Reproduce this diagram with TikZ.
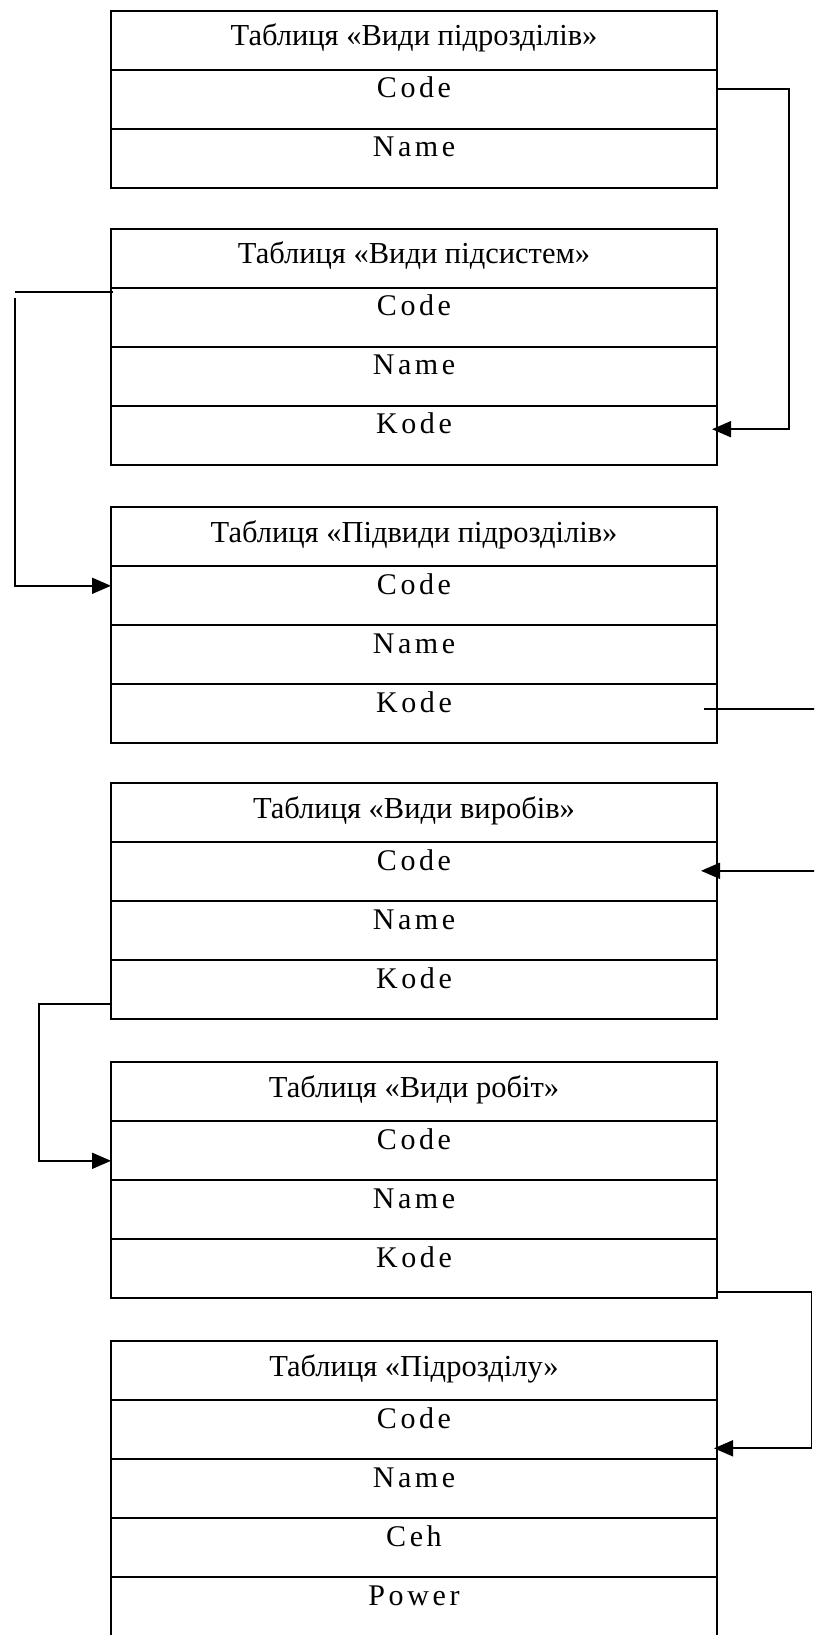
\documentclass[tikz,border=0pt]{standalone}
\usepackage{fontspec}
\setmainfont{Liberation Serif}
\newfontfamily\fieldfont[LetterSpace=12]{Liberation Serif}
\usetikzlibrary{positioning,arrows.meta}

\tikzset{
    tabhead/.style={draw,line width=1.8pt,minimum width=606pt,inner sep=0pt,outer sep=0pt,
        text height=35pt,text depth=24pt,font=\fontsize{30.5}{34}\selectfont},
    tabfield/.style={draw,line width=1.8pt,minimum width=606pt,inner sep=0pt,outer sep=0pt,
        text height=28pt,text depth=31pt,font=\fieldfont\fontsize{30}{34}\selectfont},
    link/.style={line width=1.8pt},
    linkarrow/.style={line width=1.8pt,-{Triangle[length=19pt,width=16pt]}}
}

\begin{document}
\begin{tikzpicture}[x=1pt,y=-1pt]
    \useasboundingbox (0,0) rectangle (814,1635);
    \clip (0,0) rectangle (814,1635);
    %% tables
    \node[tabhead,anchor=north] (vp) at (414,10.7) {Таблиця «Види підрозділів»};
    \node[tabfield,below=0pt of vp] (vpcode) {Code};
    \node[tabfield,below=0pt of vpcode] (vpname) {Name};

    \node[tabhead,anchor=north] (vps) at (414,228.7) {Таблиця «Види підсистем»};
    \node[tabfield,below=0pt of vps] (vpscode) {Code};
    \node[tabfield,below=0pt of vpscode] (vpsname) {Name};
    \node[tabfield,below=0pt of vpsname] (vpskode) {Kode};

    \node[tabhead,anchor=north] (pvp) at (414,507.3) {Таблиця «Підвиди підрозділів»};
    \node[tabfield,below=0pt of pvp] (pvpcode) {Code};
    \node[tabfield,below=0pt of pvpcode] (pvpname) {Name};
    \node[tabfield,below=0pt of pvpname] (pvpkode) {Kode};

    \node[tabhead,anchor=north] (vv) at (414,783.3) {Таблиця «Види виробів»};
    \node[tabfield,below=0pt of vv] (vvcode) {Code};
    \node[tabfield,below=0pt of vvcode] (vvname) {Name};
    \node[tabfield,below=0pt of vvname] (vvkode) {Kode};

    \node[tabhead,anchor=north] (vr) at (414,1062.3) {Таблиця «Види робіт»};
    \node[tabfield,below=0pt of vr] (vrcode) {Code};
    \node[tabfield,below=0pt of vrcode] (vrname) {Name};
    \node[tabfield,below=0pt of vrname] (vrkode) {Kode};

    \node[tabhead,anchor=north] (pd) at (414,1341.3) {Таблиця «Підрозділу»};
    \node[tabfield,below=0pt of pd] (pdcode) {Code};
    \node[tabfield,below=0pt of pdcode] (pdname) {Name};
    \node[tabfield,below=0pt of pdname] (pdceh) {Ceh};
    \node[tabfield,below=0pt of pdceh] (pdpower) {Power};
    %% links
    \draw[linkarrow] ([yshift=10pt]vpcode.east) -- ++(72pt,0) |- ([xshift=-5pt,yshift=6pt]vpskode.east);
    \draw[link] ([xshift=2pt,yshift=25.5pt]vpscode.west) -- ++(-98pt,0) coordinate (kinka);
    \draw[linkarrow] ([yshift=-6pt]kinka) |- ([yshift=10pt]pvpcode.west);
    \draw[linkarrow] ([xshift=-13.5pt,yshift=4.5pt]pvpkode.east) -- ++(120pt,0) |- ([xshift=-16pt,yshift=1pt]vvcode.east);
    \draw[linkarrow] ([yshift=-14pt]vvkode.west) -- ++(-72pt,0) |- ([yshift=-10pt]vrcode.west);
    \draw[linkarrow] ([yshift=-23pt]vrkode.east) -- ++(94.5pt,0) |- ([xshift=-3pt,yshift=-18.5pt]pdcode.east);
\end{tikzpicture}
\end{document}
